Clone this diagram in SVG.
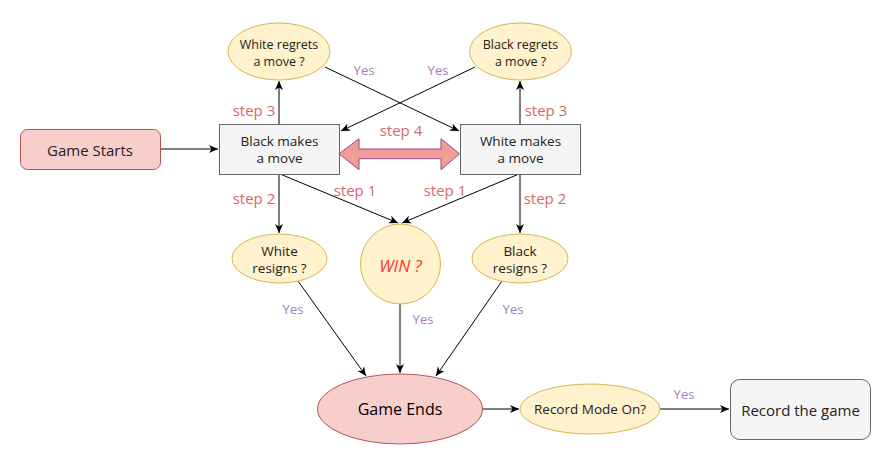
<svg xmlns="http://www.w3.org/2000/svg" width="893" height="473" viewBox="0 0 893 473">
<defs>
<marker id="ah" markerWidth="10" markerHeight="10" refX="9" refY="5" orient="auto" markerUnits="userSpaceOnUse">
<path d="M0,1 L9,5 L0,9 L2.5,5 Z" fill="#000"/>
</marker>
<style>
text{font-family:"Open Sans","Liberation Sans",sans-serif;text-anchor:middle;dominant-baseline:central}
.n{font-size:13.5px;fill:#222}
.g{fill:#F5F5F5;stroke:#666666;stroke-width:1}
.y{fill:#FFF2CC;stroke:#D6B656;stroke-width:1}
.p{fill:#F8CECC;stroke:#B85450;stroke-width:1}
.c{fill:none;stroke:#000;stroke-width:1;marker-end:url(#ah)}
.s{font-size:15px;fill:#D46A6A}
.ye{font-size:13px;fill:#A680B8}
</style>
</defs>
<rect width="893" height="473" fill="#fff"/>
<g id="connectors">
<line class="c" x1="161" y1="149" x2="218" y2="149"/>
<line class="c" x1="279" y1="124" x2="279" y2="81"/>
<line class="c" x1="520" y1="124" x2="520" y2="81"/>
<line class="c" x1="325" y1="67" x2="459" y2="131"/>
<line class="c" x1="475" y1="67" x2="341" y2="131"/>
<line class="c" x1="279" y1="174" x2="279" y2="233"/>
<line class="c" x1="520" y1="174" x2="520" y2="233"/>
<line class="c" x1="280" y1="174" x2="398" y2="223"/>
<line class="c" x1="519" y1="174" x2="402" y2="223"/>
<line class="c" x1="298" y1="281" x2="366" y2="376"/>
<line class="c" x1="400" y1="304" x2="400" y2="373"/>
<line class="c" x1="502" y1="281" x2="436" y2="376"/>
<line class="c" x1="483" y1="409" x2="519" y2="409"/>
<line class="c" x1="660" y1="409" x2="729" y2="409"/>
<path id="step4-arrow" d="M339,153.8 L359,138.7 L359,149 L441,149 L441,138.7 L459.5,153.8 L441,169.7 L441,158.7 L359,158.7 L359,169.7 Z" fill="#F19C99" stroke="#9C4A80" stroke-width="1"/>
<text class="s" x="254" y="110">step 3</text>
<text class="s" x="546" y="110">step 3</text>
<text class="s" x="401" y="130">step 4</text>
<text class="s" x="254" y="198">step 2</text>
<text class="s" x="545" y="198">step 2</text>
<text class="s" x="355" y="190">step 1</text>
<text class="s" x="445" y="190">step 1</text>
<text class="ye" x="364" y="70">Yes</text>
<text class="ye" x="438" y="70">Yes</text>
<text class="ye" x="293" y="309">Yes</text>
<text class="ye" x="423" y="319">Yes</text>
<text class="ye" x="513" y="309">Yes</text>
<text class="ye" x="684" y="394">Yes</text>
</g>
<g id="game-starts">
<rect class="p" x="20.5" y="129.5" width="140" height="40" rx="7"/>
<text class="n" x="90" y="149.5" style="font-size:15px">Game Starts</text>
</g>
<g id="black-move">
<rect class="g" x="219.5" y="124.5" width="120" height="50"/>
<text class="n" x="279.5" y="141">Black makes</text>
<text class="n" x="279.5" y="158">a move</text>
</g>
<g id="white-move">
<rect class="g" x="460.5" y="124.5" width="120" height="50"/>
<text class="n" x="520.5" y="141">White makes</text>
<text class="n" x="520.5" y="158">a move</text>
</g>
<g id="white-regrets">
<ellipse class="y" cx="279" cy="51.5" rx="51" ry="28.5"/>
<text class="n" x="279" y="44" style="font-size:12.5px">White regrets</text>
<text class="n" x="279" y="61" style="font-size:12.5px">a move ?</text>
</g>
<g id="black-regrets">
<ellipse class="y" cx="520.5" cy="51.5" rx="51" ry="28.5"/>
<text class="n" x="520.5" y="44" style="font-size:12.5px">Black regrets</text>
<text class="n" x="520.5" y="61" style="font-size:12.5px">a move ?</text>
</g>
<g id="white-resigns">
<ellipse class="y" cx="279.5" cy="258.5" rx="47.5" ry="24.5"/>
<text class="n" x="279.5" y="251">White</text>
<text class="n" x="279.5" y="268">resigns ?</text>
</g>
<g id="black-resigns">
<ellipse class="y" cx="520" cy="258.5" rx="48" ry="24.5"/>
<text class="n" x="520" y="251">Black</text>
<text class="n" x="520" y="268">resigns ?</text>
</g>
<g id="win">
<circle class="y" cx="400.5" cy="264" r="40"/>
<text x="400.5" y="265" style="font-size:17px;font-style:italic;fill:#FF3333">WIN ?</text>
</g>
<g id="game-ends">
<ellipse class="p" cx="400" cy="409" rx="82.5" ry="35"/>
<text class="n" x="400" y="409" style="font-size:16px;fill:#000">Game Ends</text>
</g>
<g id="record-mode">
<ellipse class="y" cx="590" cy="409" rx="70" ry="25"/>
<text class="n" x="590" y="409">Record Mode On?</text>
</g>
<g id="record-game">
<rect class="g" x="730.5" y="379.5" width="140" height="60" rx="9"/>
<text class="n" x="800.5" y="409.5" style="font-size:15px">Record the game</text>
</g>
</svg>
